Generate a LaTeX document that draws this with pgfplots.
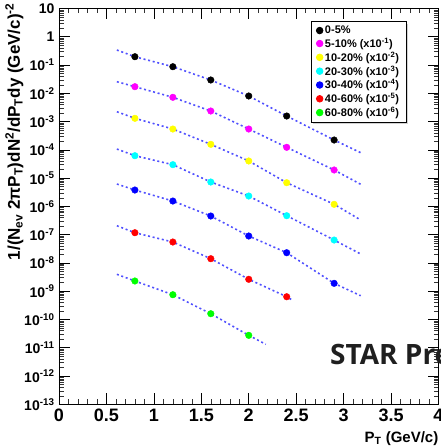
\documentclass[border=0pt]{standalone}
\usepackage{fontspec}
\setmainfont{Liberation Sans}
\newfontfamily\opensans{Open Sans}
\usepackage{pgfplots}
\pgfplotsset{compat=1.18}
\usetikzlibrary{shadows}
\definecolor{fitblue}{RGB}{80,80,255}
\definecolor{mag}{RGB}{255,0,255}
\definecolor{yel}{RGB}{255,255,0}
\definecolor{cya}{RGB}{0,255,255}
\definecolor{blu}{RGB}{0,0,255}
\definecolor{re}{RGB}{255,0,0}
\definecolor{gre}{RGB}{0,255,0}

\gdef\myminor{}
\foreach \e in {-13,...,0}{\foreach \m in {2,...,9}{\xdef\myminor{\myminor\m e\e,}}}
\xdef\myminor{\myminor 20}

\pgfplotstableread{
x y
0.8 0.197
1.2 0.0873
1.6 0.0296
2.0 0.00804
2.4 0.001574
2.9 2.23e-4
}\tblack
\pgfplotstableread{
x y
0.8 0.01714
1.2 0.00723
1.6 0.002366
2.0 5.46e-4
2.4 1.23e-4
2.9 1.94e-5
}\tmag
\pgfplotstableread{
x y
0.8 1.306e-3
1.2 5.46e-4
1.6 1.57e-4
2.0 4.04e-5
2.4 6.89e-6
2.9 1.186e-6
}\tyel
\pgfplotstableread{
x y
0.8 6.21e-5
1.2 2.99e-5
1.6 7.29e-6
2.0 2.33e-6
2.4 4.69e-7
2.9 6.47e-8
}\tcya
\pgfplotstableread{
x y
0.8 3.80e-6
1.2 1.55e-6
1.6 4.57e-7
2.0 8.97e-8
2.4 2.30e-8
2.9 1.90e-9
}\tblu
\pgfplotstableread{
x y
0.8 1.172e-7
1.2 5.50e-8
1.6 1.413e-8
2.0 2.64e-9
2.4 6.38e-10
}\tred
\pgfplotstableread{
x y
0.8 2.30e-9
1.2 7.52e-10
1.6 1.60e-10
2.0 2.75e-11
}\tgre

\begin{document}
\begin{tikzpicture}
\begin{axis}[
  scale only axis, width=379.5pt, height=395.8pt,
  xmin=0, xmax=4, ymode=log, ymin=1e-13, ymax=10,
  xtick={0,0.5,1,1.5,2,2.5,3,3.5,4},
  xticklabels={0,0.5,1,1.5,2,2.5,3,3.5,4},
  minor x tick num=4,
  ytickten={-13,-12,...,1},
  minor ytick/.expanded={\myminor},
  yticklabel={\pgfmathtruncatemacro\myexp{round(\tick/2.302585093)}\ifnum\myexp=0 1\else\ifnum\myexp=1 10\else 10\textsuperscript{\myexp}\fi\fi},
  tick align=inside, major tick length=11pt, minor tick length=5pt,
  every tick/.style={black, line width=0.6pt},
  every minor tick/.style={black!80, line width=0.5pt},
  axis line style={line width=0.8pt},
  xticklabel style={font=\bfseries\fontsize{18}{18}\selectfont, yshift=-1pt},
  yticklabel style={font=\bfseries\fontsize{14}{14}\selectfont, xshift=-1pt},
  legend style={at={(rel axis cs:0.664,0.968)}, anchor=north west,
    draw=black, line width=0.8pt, fill=white,
    drop shadow={shadow xshift=2pt, shadow yshift=-2pt, fill=gray!70},
    font=\bfseries\fontsize{11}{12}\selectfont, row sep=2.2pt,
    nodes={inner ysep=0.4pt},
    inner xsep=5pt, inner ysep=4pt},
  legend cell align=left,
  mark size=3.3pt,
]
\coordinate (TL) at (rel axis cs:0,1);
\coordinate (BL) at (rel axis cs:0,0);
\coordinate (BR) at (rel axis cs:1,0);
% fits
\addplot[fitblue, line width=1.6pt, dash pattern=on 2pt off 2.7pt, forget plot] coordinates {(0.61,0.340) (0.8,0.197) (1.2,0.0873) (1.6,0.0296) (2.0,0.00804) (2.4,0.001574) (2.9,2.23e-4) (3.18,7.93e-5)};
\addplot[fitblue, line width=1.6pt, dash pattern=on 2pt off 2.7pt, forget plot] coordinates {(0.61,0.02576) (0.8,0.01714) (1.2,0.00723) (1.6,0.002366) (2.0,5.46e-4) (2.4,1.23e-4) (2.9,1.94e-5) (3.18,6.04e-6)};
\addplot[fitblue, line width=1.6pt, dash pattern=on 2pt off 2.7pt, forget plot] coordinates {(0.61,2.234e-3) (0.8,1.306e-3) (1.2,5.46e-4) (1.6,1.57e-4) (2.0,4.04e-5) (2.4,6.89e-6) (2.9,1.186e-6) (3.18,3.30e-7)};
\addplot[fitblue, line width=1.6pt, dash pattern=on 2pt off 2.7pt, forget plot] coordinates {(0.61,1.07e-4) (0.8,6.21e-5) (1.2,2.99e-5) (1.6,7.29e-6) (2.0,2.33e-6) (2.4,4.69e-7) (2.9,6.47e-8) (3.18,2.07e-8)};
\addplot[fitblue, line width=1.6pt, dash pattern=on 2pt off 2.7pt, forget plot] coordinates {(0.61,6.19e-6) (0.8,3.80e-6) (1.2,1.55e-6) (1.6,4.57e-7) (2.0,8.97e-8) (2.4,2.30e-8) (2.9,1.90e-9) (3.18,6.93e-10)};
\addplot[fitblue, line width=1.6pt, dash pattern=on 2pt off 2.7pt, forget plot] coordinates {(0.61,2.07e-7) (0.8,1.172e-7) (1.2,5.50e-8) (1.6,1.413e-8) (2.0,2.64e-9) (2.4,6.38e-10) (2.47,4.61e-10)};
\addplot[fitblue, line width=1.6pt, dash pattern=on 2pt off 2.7pt, forget plot] coordinates {(0.61,3.96e-9) (0.8,2.30e-9) (1.2,7.52e-10) (1.6,1.60e-10) (2.0,2.75e-11) (2.18,1.324e-11)};
% data
\addplot[only marks, mark=*, mark options={fill=black, draw=black}] table {\tblack};
\addplot[only marks, mark=*, mark options={fill=mag, draw=mag}] table {\tmag};
\addplot[only marks, mark=*, mark options={fill=yel, draw=yel}] table {\tyel};
\addplot[only marks, mark=*, mark options={fill=cya, draw=cya}] table {\tcya};
\addplot[only marks, mark=*, mark options={fill=blu, draw=blu}] table {\tblu};
\addplot[only marks, mark=*, mark options={fill=re, draw=re}] table {\tred};
\addplot[only marks, mark=*, mark options={fill=gre, draw=gre}] table {\tgre};
\legend{0-5\%, 5-10\% (x10\textsuperscript{-1}), 10-20\% (x10\textsuperscript{-2}), 20-30\% (x10\textsuperscript{-3}), 30-40\% (x10\textsuperscript{-4}), 40-60\% (x10\textsuperscript{-5}), 60-80\% (x10\textsuperscript{-6})}
\end{axis}
\node[rotate=90, anchor=base east, inner sep=0pt, font=\bfseries\fontsize{17}{17}\selectfont]
  at ([xshift=-39pt, yshift=5.5pt]TL) {1/(N\textsubscript{ev} 2πP\textsubscript{T})dN\textsuperscript{2}/dP\textsubscript{T}dy (GeV/c)\textsuperscript{-2}};
\node[anchor=base east, inner sep=0pt, font=\bfseries\fontsize{15}{15}\selectfont]
  at ([xshift=0pt, yshift=-37.7pt]BR) {P\textsubscript{T} (GeV/c)};
\node[anchor=base west, inner sep=0pt, text=black!88, font=\opensans\bfseries\fontsize{28}{28}\selectfont]
  at ([xshift=271pt, yshift=39.3pt]BL) {STAR Preliminary};
\pgfresetboundingbox
\useasboundingbox ([xshift=-59pt, yshift=-42.7pt]BL) rectangle ++(440pt,447pt);
\end{tikzpicture}
\end{document}
